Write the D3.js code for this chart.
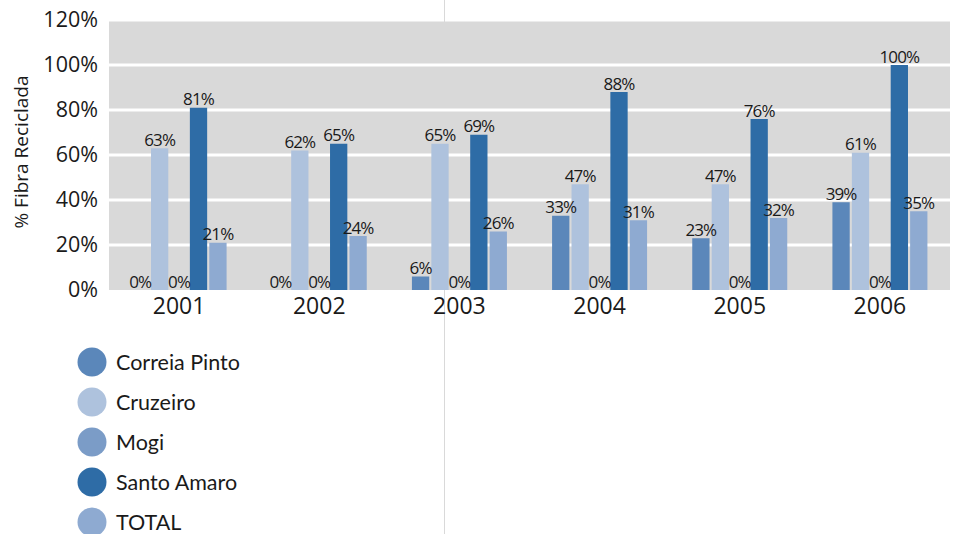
<!DOCTYPE html>
<html>
<head>
<meta charset="utf-8">
<script src="https://cdn.jsdelivr.net/npm/d3@7"></script>
<style>
  html, body { margin: 0; padding: 0; background: #fff; }
  svg { display: block; }
</style>
</head>
<body>
<svg id="chart" width="955" height="534"></svg>
<script>
// Recycled fibre share per mill, 2001–2006
const years = ["2001", "2002", "2003", "2004", "2005", "2006"];
const series = ["Correia Pinto", "Cruzeiro", "Mogi", "Santo Amaro", "TOTAL"];
const correiaPinto = [0, 0, 6, 33, 23, 39];
const cruzeiro     = [63, 62, 65, 47, 47, 61];
const mogi         = [0, 0, 0, 0, 0, 0];
const santoAmaro   = [81, 65, 69, 88, 76, 100];
const total        = [21, 24, 26, 31, 32, 35];
const yTicks = [0, 20, 40, 60, 80, 100, 120];
const colors = ["#5b87ba", "#aec2dd", "#7b9cc7", "#2e6ca6", "#8eaad1"];

const values = [correiaPinto, cruzeiro, mogi, santoAmaro, total];

const svg = d3.select("#chart");
const plotLeft = 109, plotRight = 950, plotTop = 20, plotBottom = 290;

// faint vertical guide running through the page
svg.append("line")
  .attr("x1", 444.5).attr("x2", 444.5)
  .attr("y1", 0).attr("y2", 534)
  .attr("stroke", "#d9d9d9").attr("stroke-width", 1);

const x0 = d3.scaleBand().domain(years).range([plotLeft, plotRight]).padding(0);
const groupW = 95;
const x1 = d3.scaleBand().domain(series).range([-groupW / 2, groupW / 2]).paddingInner(0.11);
const y = d3.scaleLinear().domain([0, 120]).range([plotBottom, plotTop]);

// plot background
svg.append("rect")
  .attr("x", plotLeft).attr("y", y(120) + 1.5)
  .attr("width", plotRight - plotLeft).attr("height", plotBottom - y(120) - 1.5)
  .attr("fill", "#d9d9d9");

// horizontal gridlines
svg.append("g").selectAll("line")
  .data(yTicks.filter(t => t > 0 && t < 120))
  .join("line")
  .attr("x1", plotLeft).attr("x2", plotRight)
  .attr("y1", d => y(d)).attr("y2", d => y(d))
  .attr("stroke", "#ffffff").attr("stroke-width", 3);

// y axis labels
const yAxis = d3.axisLeft(y).tickValues(yTicks).tickFormat(d => d + "%").tickSize(0).tickPadding(11);
const gy = svg.append("g").attr("transform", `translate(${plotLeft},0)`).call(yAxis);
gy.select(".domain").remove();
gy.selectAll("text")
  .attr("font-family", "'Open Sans', sans-serif")
  .attr("font-size", 21.5).attr("fill", "#1a1a1a");

// x axis labels
const xAxis = d3.axisBottom(x0).tickSize(0).tickPadding(8);
const gx = svg.append("g").attr("transform", `translate(0,${plotBottom})`).call(xAxis);
gx.select(".domain").remove();
gx.selectAll("text")
  .attr("font-family", "'Open Sans', sans-serif")
  .attr("font-size", 23).attr("fill", "#1a1a1a");

// axis title
svg.append("text")
  .attr("transform", "translate(28,152) rotate(-90)")
  .attr("text-anchor", "middle")
  .attr("font-family", "'Open Sans', sans-serif")
  .attr("font-size", 19).attr("fill", "#1a1a1a")
  .text("% Fibra Reciclada");

// bars and value labels
const rows = [];
years.forEach((yr, i) => {
  series.forEach((s, j) => rows.push({ year: yr, s, j, v: values[j][i] }));
});

const groups = svg.append("g");
groups.selectAll("rect")
  .data(rows)
  .join("rect")
  .attr("x", d => x0(d.year) + x0.bandwidth() / 2 + x1(d.s))
  .attr("y", d => y(d.v))
  .attr("width", x1.bandwidth())
  .attr("height", d => y(0) - y(d.v))
  .attr("fill", d => colors[d.j]);

groups.selectAll("text")
  .data(rows)
  .join("text")
  .attr("x", d => x0(d.year) + x0.bandwidth() / 2 + x1(d.s) + x1.bandwidth() / 2)
  .attr("y", d => y(d.v) - 2.5)
  .attr("text-anchor", "middle")
  .attr("font-family", "'Open Sans', sans-serif")
  .attr("font-size", 17)
  .attr("letter-spacing", -0.9)
  .attr("fill", "#1a1a1a")
  .text(d => d.v + "%");

// legend
const legend = svg.append("g").selectAll("g")
  .data(series)
  .join("g")
  .attr("transform", (d, i) => `translate(92,${362 + i * 40})`);
legend.append("circle").attr("r", 14.5).attr("fill", (d, i) => colors[i]);
legend.append("text")
  .attr("x", 24).attr("dy", "0.35em")
  .attr("font-family", "Lato, sans-serif")
  .attr("font-size", 21.5).attr("fill", "#1a1a1a")
  .text(d => d);
</script>
</body>
</html>
